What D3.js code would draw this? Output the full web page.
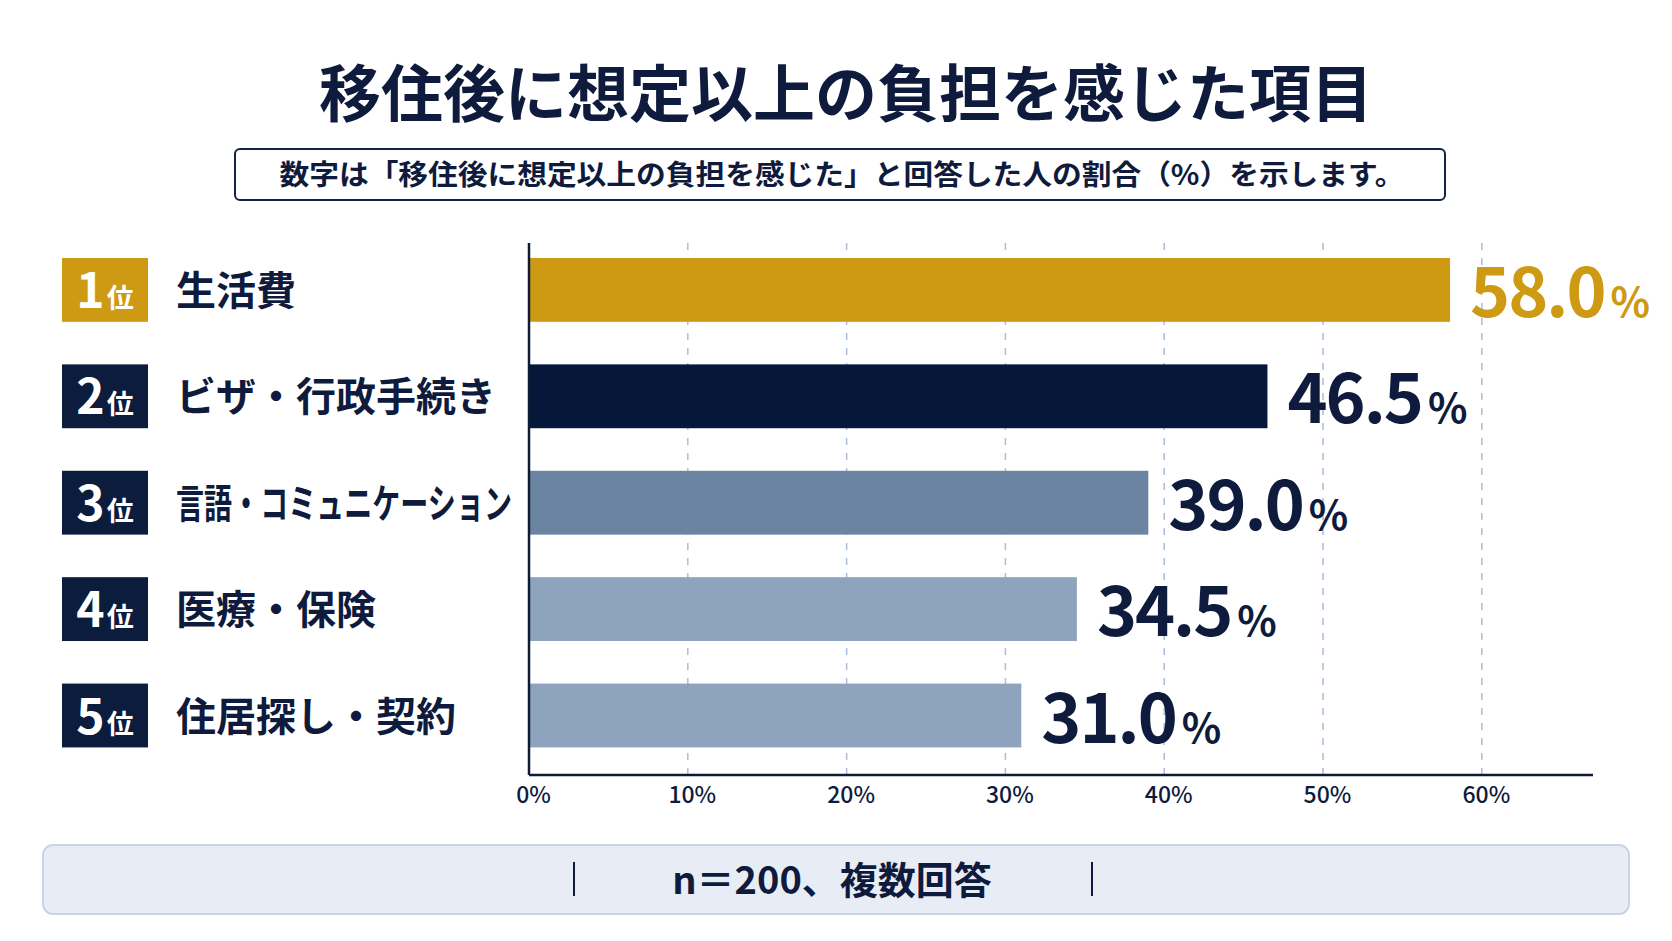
<!DOCTYPE html>
<html lang="ja">
<head>
<meta charset="utf-8">
<script src="https://cdn.jsdelivr.net/npm/d3@7"></script>
<style>
  html, body { margin: 0; padding: 0; background: #ffffff; }
  svg { display: block; font-family: "Noto Sans CJK JP", "Noto Sans", sans-serif; }
</style>
</head>
<body>
<div id="chart"></div>
<script>
// data
const ranks = [1, 2, 3, 4, 5];
const categories = ["生活費", "ビザ・行政手続き", "言語・コミュニケーション", "医療・保険", "住居探し・契約"];
const values = [58.0, 46.5, 39.0, 34.5, 31.0];
const tickValues = [0, 10, 20, 30, 40, 50, 60];
const title = "移住後に想定以上の負担を感じた項目";
const subtitle = "数字は「移住後に想定以上の負担を感じた」と回答した人の割合（%）を示します。";
const footnote = "n＝200、複数回答";

const barColors = ["#CE9A14", "#06183A", "#6B84A2", "#8DA3BE", "#8DA3BE"];
const badgeColors = ["#CE9A14", "#0B1C3C", "#0B1C3C", "#0B1C3C", "#0B1C3C"];
const labelColors = ["#CE9A14", "#0F1B3D", "#0F1B3D", "#0F1B3D", "#0F1B3D"];
const navy = "#0F1B3D";

const W = 1672, H = 941;

const svg = d3.select("#chart").append("svg")
    .attr("width", W)
    .attr("height", H)
    .attr("viewBox", `0 0 ${W} ${H}`);

// title
svg.append("text")
    .attr("x", 846)
    .attr("y", 117)
    .attr("text-anchor", "middle")
    .attr("fill", navy)
    .style("font-size", "62px")
    .style("font-weight", "700")
    .text(title);

// subtitle box
svg.append("rect")
    .attr("x", 235).attr("y", 149)
    .attr("width", 1210).attr("height", 51)
    .attr("rx", 5)
    .attr("fill", "#ffffff")
    .attr("stroke", "#13204A")
    .attr("stroke-width", 2);

svg.append("text")
    .attr("x", 842)
    .attr("y", 185)
    .attr("text-anchor", "middle")
    .attr("fill", navy)
    .attr("textLength", 1125)
    .attr("lengthAdjust", "spacingAndGlyphs")
    .style("font-size", "28px")
    .style("font-weight", "700")
    .text(subtitle);

// scales
const plotLeft = 529, plotRight = 1593, plotTop = 243, plotBottom = 775;

const x = d3.scaleLinear()
    .domain([0, 67])
    .range([plotLeft, plotRight]);

const y = d3.scaleBand()
    .domain(categories)
    .range([236.7, 768.7])
    .paddingInner(0.4)
    .paddingOuter(0.2);

// gridlines
svg.append("g")
    .selectAll("line")
    .data(tickValues.filter(t => t > 0))
    .enter()
    .append("line")
    .attr("x1", d => x(d))
    .attr("x2", d => x(d))
    .attr("y1", plotTop)
    .attr("y2", plotBottom)
    .attr("stroke", "#A9BEDA")
    .attr("stroke-width", 1.5)
    .attr("stroke-dasharray", "7,8");

// bars
const rows = categories.map((c, i) => ({ rank: ranks[i], cat: c, val: values[i], i }));

svg.append("g")
    .selectAll("rect")
    .data(rows)
    .enter()
    .append("rect")
    .attr("x", x(0))
    .attr("y", d => y(d.cat))
    .attr("width", d => x(d.val) - x(0))
    .attr("height", y.bandwidth())
    .attr("fill", d => barColors[d.i]);

// value labels
const valLabels = svg.append("g")
    .selectAll("text")
    .data(rows)
    .enter()
    .append("text")
    .attr("x", d => x(d.val) + 20)
    .attr("y", d => y(d.cat) + y.bandwidth() / 2 + 27)
    .attr("fill", d => labelColors[d.i])
    .style("font-weight", "700");

valLabels.append("tspan")
    .style("font-size", "68px")
    .style("letter-spacing", "-2px")
    .text(d => d.val.toFixed(1));

valLabels.append("tspan")
    .attr("dx", 6)
    .style("font-size", "41px")
    .style("font-weight", "600")
    .text("%");

// rank badges
const badges = svg.append("g")
    .selectAll("g")
    .data(rows)
    .enter()
    .append("g");

badges.append("rect")
    .attr("x", 62)
    .attr("y", d => y(d.cat))
    .attr("width", 86)
    .attr("height", y.bandwidth())
    .attr("fill", d => badgeColors[d.i]);

const badgeText = badges.append("text")
    .attr("x", 105)
    .attr("y", d => y(d.cat) + y.bandwidth() / 2 + 18)
    .attr("text-anchor", "middle")
    .attr("fill", "#ffffff")
    .style("font-weight", "700");

badgeText.append("tspan")
    .style("font-size", "48px")
    .text(d => d.rank);

badgeText.append("tspan")
    .attr("dx", 2)
    .style("font-size", "27px")
    .text("位");

// category labels
svg.append("g")
    .selectAll("text")
    .data(rows)
    .enter()
    .append("text")
    .attr("x", 176)
    .attr("y", d => y(d.cat) + y.bandwidth() / 2 + 15)
    .attr("fill", navy)
    .style("font-size", "40px")
    .style("font-weight", "700")
    .text(d => d.cat)
    .each(function () {
        const maxW = 336;
        if (this.getComputedTextLength() > maxW) {
            d3.select(this)
                .attr("textLength", maxW)
                .attr("lengthAdjust", "spacingAndGlyphs");
        }
    });

// axes
const xAxis = d3.axisBottom(x)
    .tickValues(tickValues)
    .tickSize(0)
    .tickPadding(12)
    .tickFormat(d => d + "%");

const axisG = svg.append("g")
    .attr("transform", `translate(4, ${plotBottom})`)
    .call(xAxis);

axisG.select(".domain").remove();
axisG.selectAll("text")
    .attr("fill", navy)
    .style("font-size", "23px")
    .style("font-weight", "500")
    .style("font-family", "\"Noto Sans CJK JP\", sans-serif");

svg.append("line")
    .attr("x1", plotLeft).attr("x2", plotRight)
    .attr("y1", plotBottom).attr("y2", plotBottom)
    .attr("stroke", "#0F1B33")
    .attr("stroke-width", 2.5);

svg.append("line")
    .attr("x1", plotLeft).attr("x2", plotLeft)
    .attr("y1", plotTop).attr("y2", plotBottom)
    .attr("stroke", "#0F1B33")
    .attr("stroke-width", 2.5);

// footer
svg.append("rect")
    .attr("x", 43).attr("y", 845)
    .attr("width", 1586).attr("height", 69)
    .attr("rx", 10)
    .attr("fill", "#E8EDF5")
    .attr("stroke", "#C9D5E6")
    .attr("stroke-width", 2);

svg.selectAll(".sep")
    .data([574, 1092])
    .enter()
    .append("line")
    .attr("x1", d => d).attr("x2", d => d)
    .attr("y1", 862).attr("y2", 896)
    .attr("stroke", navy)
    .attr("stroke-width", 2);

svg.append("text")
    .attr("x", 832)
    .attr("y", 894)
    .attr("text-anchor", "middle")
    .attr("fill", navy)
    .style("font-size", "38px")
    .style("font-weight", "700")
    .text(footnote);
</script>
</body>
</html>
